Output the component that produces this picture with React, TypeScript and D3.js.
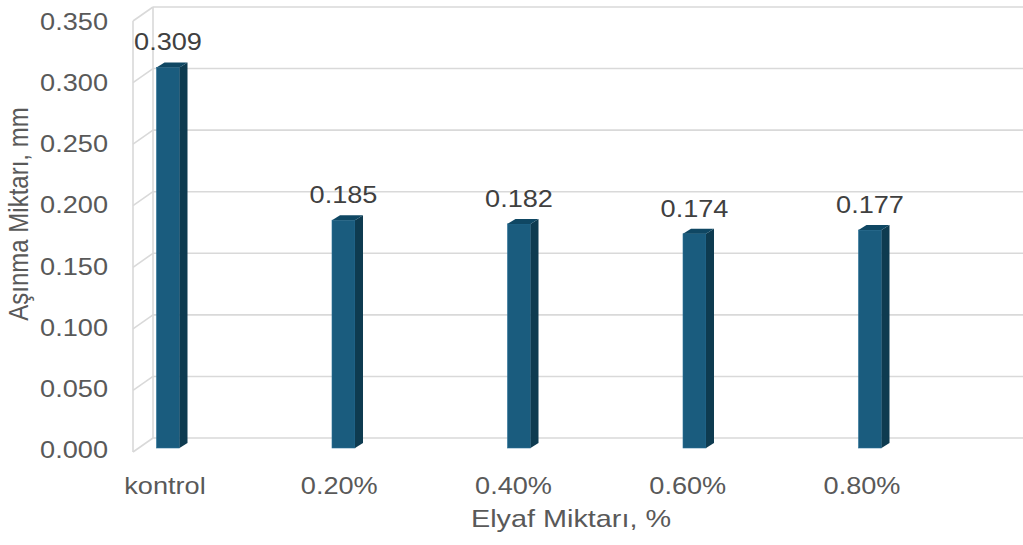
import React from "react";
import * as d3 from "d3";

const categories = ["kontrol", "0.20%", "0.40%", "0.60%", "0.80%"];
const values = [0.309, 0.185, 0.182, 0.174, 0.177];
const yTicks = [0, 0.05, 0.1, 0.15, 0.2, 0.25, 0.3, 0.35];
const yTitle = "Aşınma Miktarı, mm";
const xTitle = "Elyaf Miktarı, %";

const W = 1023;
const H = 545;
const FONT = "'Liberation Sans', Arial, sans-serif";
const TXT = "#595959";
const GRID = "#d9d9d9";
const SX = 1.18;

export default function App() {
  // back wall and front plane (3D perspective offsets)
  const backLeft = 153;
  const depthDx = -20;
  const depthDy = 14;
  const yBack = d3.scaleLinear().domain([0, 0.35]).range([438, 7]);
  const yBar = d3.scaleLinear().domain([0, 0.35]).range([448, 17]);
  const yLabel = d3.scaleLinear().domain([0, 0.35]).range([450, 22]);
  const xBar = d3.scalePoint<string>().domain(categories).range([168, 870]);
  const xLab = d3.scalePoint<string>().domain(categories).range([165, 862]);

  const barW = 23;
  const bdx = 8;
  const bdy = -5;

  const fmt = d3.format(".3f");

  return (
    <svg
      width={W}
      height={H}
      style={{ position: "absolute", left: 0, top: 0, background: "#fff" }}
      fontFamily={FONT}
    >
      {/* back wall gridlines */}
      {yTicks.map((t) => (
        <line
          key={"g" + t}
          x1={backLeft}
          x2={W}
          y1={yBack(t)}
          y2={yBack(t)}
          stroke={GRID}
          strokeWidth={1.6}
        />
      ))}
      {/* side wall */}
      {yTicks.map((t) => (
        <line
          key={"s" + t}
          x1={backLeft}
          x2={backLeft + depthDx}
          y1={yBack(t)}
          y2={yBack(t) + depthDy}
          stroke={GRID}
          strokeWidth={1.6}
        />
      ))}
      <line
        x1={backLeft}
        x2={backLeft}
        y1={yBack(0.35)}
        y2={yBack(0)}
        stroke={GRID}
        strokeWidth={1.6}
      />
      <line
        x1={backLeft + depthDx}
        x2={backLeft + depthDx}
        y1={yBack(0.35) + depthDy}
        y2={yBack(0) + depthDy}
        stroke={GRID}
        strokeWidth={1.6}
      />

      {/* bars */}
      {categories.map((c, i) => {
        const cx = xBar(c)!;
        const x0 = cx - barW / 2;
        const x1 = cx + barW / 2;
        const yt = yBar(values[i]);
        const yb = yBar(0);
        const side = `M${x1},${yt} L${x1 + bdx},${yt + bdy} L${x1 + bdx},${yb + bdy} L${x1},${yb} Z`;
        const top = `M${x0},${yt} L${x0 + bdx},${yt + bdy} L${x1 + bdx},${yt + bdy} L${x1},${yt} Z`;
        return (
          <g key={c}>
            <rect x={x0} y={yt} width={barW} height={yb - yt} fill="#1a5c7e" stroke="#2a7196" strokeWidth={0.6} />
            <path d={side} fill="#0e3b50" />
            <path d={top} fill="#0f4763" />
          </g>
        );
      })}

      {/* data labels */}
      {categories.map((c, i) => (
        <text
          key={"v" + c}
          transform={`translate(${xBar(c)},${yBar(values[i]) - 17}) scale(${SX},1)`}
          textAnchor="middle"
          fontSize={23}
          fill={"#404040"}
        >
          {fmt(values[i])}
        </text>
      ))}

      {/* y tick labels */}
      {yTicks.map((t) => (
        <text
          key={"t" + t}
          transform={`translate(108,${yLabel(t) + 8}) scale(${SX},1)`}
          textAnchor="end"
          fontSize={23}
          fill={TXT}
        >
          {fmt(t)}
        </text>
      ))}

      {/* x labels */}
      {categories.map((c) => (
        <text
          key={"x" + c}
          transform={`translate(${xLab(c)},494) scale(${SX},1)`}
          textAnchor="middle"
          fontSize={23}
          fill={TXT}
        >
          {c}
        </text>
      ))}

      {/* axis titles */}
      <text
        transform={`translate(571,527) scale(1.2,1)`}
        textAnchor="middle"
        fontSize={24}
        fill={TXT}
      >
        {xTitle}
      </text>
      <text
        transform={`translate(28,214) rotate(-90) scale(1,1.15)`}
        textAnchor="middle"
        fontSize={24}
        fill={TXT}
      >
        {yTitle}
      </text>
    </svg>
  );
}
